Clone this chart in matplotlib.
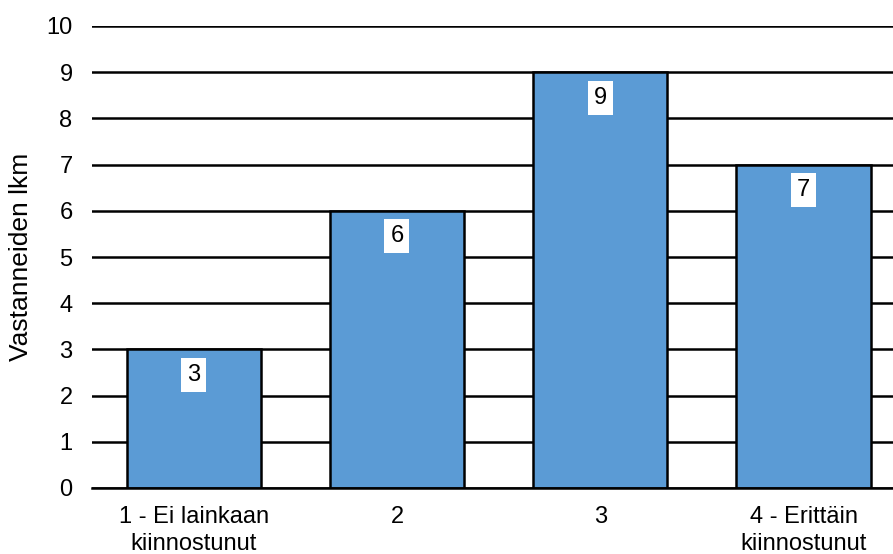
import matplotlib.pyplot as plt
import numpy as np

plt.rcParams['font.family'] = ['Liberation Sans', 'DejaVu Sans']

kategoriat = ['1 - Ei lainkaan\nkiinnostunut', '2', '3', '4 - Erittäin\nkiinnostunut']
vastaukset = [3, 6, 9, 7]
yticks = list(range(0, 11))

fig = plt.figure(figsize=(8.93, 5.54), dpi=100)
ax = fig.add_axes([92/893, 66/554, 1 - 92/893, 462/554])

x = np.arange(len(kategoriat))
ax.set_axisbelow(True)
ax.yaxis.grid(True, color='black', linewidth=1.8)
palkit = ax.bar(x, vastaukset, width=0.66, color='#5B9BD5',
                edgecolor='black', linewidth=1.8, zorder=3)

for xi, v in zip(x, vastaukset):
    ax.text(xi, v - 0.55, str(v), ha='center', va='center', fontsize=17,
            zorder=4,
            bbox=dict(boxstyle='square,pad=0.25', facecolor='white',
                      edgecolor='none'))

ax.set_xlim(-0.5, (893 - 193) / 203.5)
ax.set_ylim(0, 10)
ax.set_yticks(yticks)
ax.set_xticks(x)
ax.set_xticklabels(kategoriat, fontsize=17, linespacing=1.3)
ax.tick_params(axis='y', labelsize=17, length=0, pad=14)
ax.tick_params(axis='x', length=0, pad=13)
ax.set_ylabel('Vastanneiden lkm', fontsize=19)
ax.yaxis.set_label_coords(-59 / 801, 0.5)

for s in ['left', 'right', 'top']:
    ax.spines[s].set_visible(False)
ax.spines['bottom'].set_linewidth(1.8)
ax.spines['bottom'].set_zorder(5)

fig.savefig('out.png', dpi=100)
